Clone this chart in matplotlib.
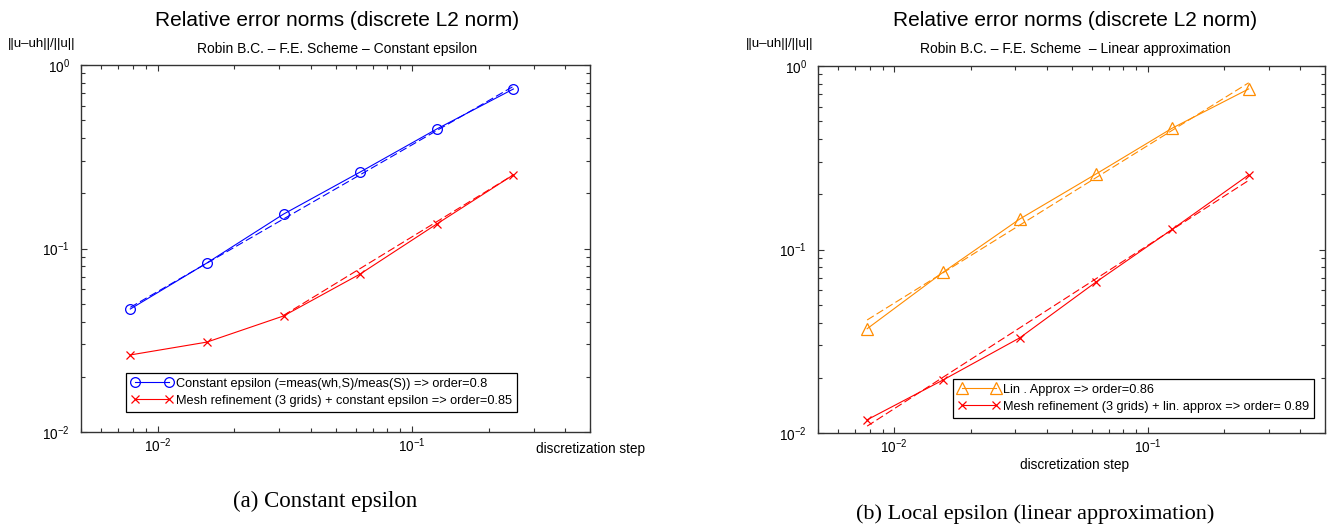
import numpy as np
import matplotlib
matplotlib.use('Agg')
from matplotlib import pyplot as plt
from matplotlib.ticker import LogLocator, LogFormatterSciNotation, NullFormatter

plt.rcParams['font.family'] = ['Liberation Sans', 'DejaVu Sans']
plt.rcParams['mathtext.fontset'] = 'custom'
plt.rcParams['mathtext.rm'] = 'Liberation Sans'
plt.rcParams['mathtext.it'] = 'Liberation Sans:italic'

# discretization steps (h = 2^-7 ... 2^-2)
h = [0.0078125, 0.015625, 0.03125, 0.0625, 0.125, 0.25]

# (a) constant epsilon
err_const = [0.0468, 0.0834, 0.154, 0.261, 0.448, 0.740]
err_mesh_const = [0.0263, 0.0309, 0.0429, 0.0726, 0.136, 0.252]
fit_const_x = [0.0078125, 0.25]
fit_const_y = [0.0478, 0.765]
fit_mesh_const_x = [0.03125, 0.25]
fit_mesh_const_y = [0.0432, 0.252]

# (b) local epsilon, linear approximation
err_lin = [0.037, 0.0754, 0.1466, 0.258, 0.459, 0.75]
err_mesh_lin = [0.0118, 0.0195, 0.033, 0.0665, 0.129, 0.255]
fit_lin_x = [0.0078125, 0.25]
fit_lin_y = [0.0413, 0.81]
fit_mesh_lin_x = [0.0078125, 0.25]
fit_mesh_lin_y = [0.0109, 0.238]

W, H = 1335, 529
fig = plt.figure(figsize=(W/100, H/100), dpi=100)

def px(x, y):
    return x/W, 1 - y/H

def setup(ax):
    ax.set_xscale('log')
    ax.set_yscale('log')
    ax.set_xlim(0.005, 0.5)
    ax.set_ylim(0.01, 1)
    for a in (ax.xaxis, ax.yaxis):
        a.set_major_locator(LogLocator(base=10))
        a.set_minor_locator(LogLocator(base=10, subs=np.arange(2, 10)))
        a.set_minor_formatter(NullFormatter())
        a.set_major_formatter(LogFormatterSciNotation())
    ax.tick_params(which='both', direction='in', top=True, right=True,
                   labelsize=9.8, color='#333333', width=0.8)
    ax.tick_params(which='major', length=4)
    ax.tick_params(which='minor', length=3)
    ax.tick_params(axis='y', pad=8)
    ax.tick_params(axis='x', pad=3)
    for s in ax.spines.values():
        s.set_linewidth(1.0)
        s.set_color('#333333')

blue = '#0000FF'
red = '#FF0000'
orange = '#FF8C00'

legend_kw = dict(loc='lower left', borderaxespad=0, numpoints=2, handlelength=3.3,
                 fontsize=9.2, fancybox=False, framealpha=1, edgecolor='black',
                 borderpad=0.4, labelspacing=0.4, handletextpad=0.2)

# ---- left panel
ax1 = fig.add_axes([81/W, 1 - 432/H, 509/W, 367/H])
setup(ax1)
ax1.plot(h, err_const, '-o', color=blue, lw=0.8, ms=7, mfc='none', mew=0.9,
         label='Constant epsilon (=meas(wh,S)/meas(S)) => order=0.8')
ax1.plot(h, err_mesh_const, '-x', color=red, lw=0.8, ms=6, mew=0.9,
         label='Mesh refinement (3 grids) + constant epsilon => order=0.85')
ax1.plot(fit_const_x, fit_const_y, '--', color=blue, lw=0.8, dashes=(7, 3))
ax1.plot(fit_mesh_const_x, fit_mesh_const_y, '--', color=red, lw=0.8, dashes=(7, 3))
leg = ax1.legend(bbox_to_anchor=(0.088, 0.0545), **legend_kw)
leg.get_frame().set_linewidth(0.9)

# ---- right panel
ax2 = fig.add_axes([818/W, 1 - 433/H, 507/W, 367/H])
setup(ax2)
ax2.plot(h, err_lin, '-^', color=orange, lw=0.8, ms=8, mfc='none', mew=0.9,
         label='Lin . Approx => order=0.86')
ax2.plot(h, err_mesh_lin, '-x', color=red, lw=0.8, ms=6, mew=0.9,
         label='Mesh refinement (3 grids) + lin. approx => order= 0.89')
ax2.plot(fit_lin_x, fit_lin_y, '--', color=orange, lw=0.8, dashes=(7, 3))
ax2.plot(fit_mesh_lin_x, fit_mesh_lin_y, '--', color=red, lw=0.8, dashes=(7, 3))
leg = ax2.legend(bbox_to_anchor=(0.266, 0.041), **legend_kw)
leg.get_frame().set_linewidth(0.9)

# titles and labels
fig.text(*px(337, 20), 'Relative error norms (discrete L2 norm)', ha='center', va='center', fontsize=15)
fig.text(*px(1075, 20), 'Relative error norms (discrete L2 norm)', ha='center', va='center', fontsize=15)
fig.text(*px(337, 49), 'Robin B.C. – F.E. Scheme – Constant epsilon', ha='center', va='center', fontsize=10)
fig.text(*px(1075, 49), 'Robin B.C. – F.E. Scheme  – Linear approximation', ha='center', va='center', fontsize=10)
fig.text(*px(42, 44), '||u–uh||/||u||', ha='center', va='center', fontsize=9.5)
fig.text(*px(780, 44), '||u–uh||/||u||', ha='center', va='center', fontsize=9.5)
fig.text(*px(591, 449), 'discretization step', ha='center', va='center', fontsize=9.8)
fig.text(*px(1075, 465), 'discretization step', ha='center', va='center', fontsize=9.8)

# captions
fig.text(*px(325, 501), '(a) Constant epsilon', ha='center', va='center',
         fontsize=16.5, family='Liberation Serif')
fig.text(*px(1035, 514), '(b) Local epsilon (linear approximation)', ha='center', va='center',
         fontsize=16, family='Liberation Serif')

fig.savefig('out.png', dpi=100)
